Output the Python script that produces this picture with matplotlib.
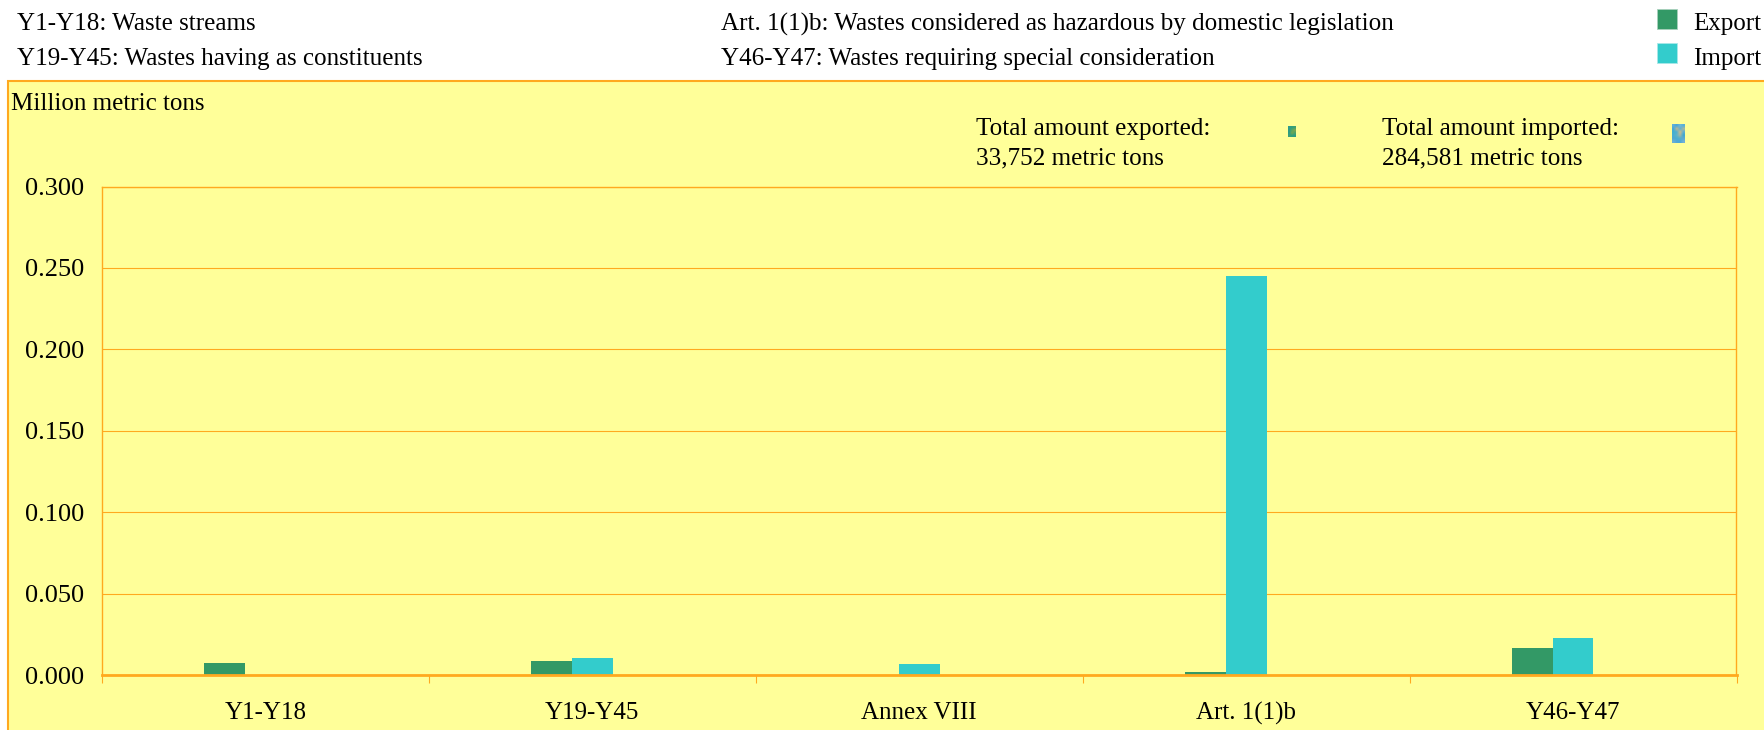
#!/usr/bin/env python3
import numpy as np
import matplotlib
matplotlib.use('Agg')
import matplotlib.pyplot as plt
from matplotlib.patches import Rectangle
from matplotlib.colors import to_rgb

categories = ['Y1-Y18', 'Y19-Y45', 'Annex VIII', 'Art. 1(1)b', 'Y46-Y47']
export_values = [0.0073, 0.0083, 0.0, 0.0016, 0.0165]
import_values = [0.0, 0.0103, 0.0070, 0.2448, 0.0225]
y_ticks = [0.0, 0.05, 0.10, 0.15, 0.20, 0.25, 0.30]

W, H = 1765, 730
ORANGE = '#FFA91F'
YELLOW = '#FFFF99'
GREEN = '#339966'
CYAN = '#33CCCC'

# colours of the two tiny pictures next to the totals
thumb_export = [['#2F9C8C', '#2FA07C', '#3FA070'],
                ['#2C9C84', '#58A860', '#80A850'],
                ['#2C9C84', '#78A850', '#4CA468'],
                ['#3CA078', '#2FA07C', '#2C9C84']]
thumb_import = [['#5FB0D8', '#4AA8D8', '#70B8D8', '#58B0D8'],
                ['#48A8D8', '#C0B890', '#60B0D0', '#A8B8A0'],
                ['#40B0D0', '#50B0D0', '#D0BC88', '#60B0D0'],
                ['#48B0D0', '#60B4C8', '#A8B8A0', '#40A8D0'],
                ['#50A8D0', '#48B0D0', '#58B0C8', '#60A8D0'],
                ['#68B0D8', '#50A8D8', '#4CA8D8', '#70B0D8']]

plt.rcParams['font.family'] = ['Liberation Serif', 'DejaVu Serif']

fig = plt.figure(figsize=(W / 100, H / 100), dpi=100, facecolor='white')


def add_px(x0, y0, x1, y1, **kw):
    # rectangle in figure pixels, y from the top
    fig.patches.append(Rectangle((x0 / W, 1 - y1 / H), (x1 - x0) / W, (y1 - y0) / H,
                                 transform=fig.transFigure, **kw))


def text_px(x, y, s, **kw):
    fig.text(x / W, 1 - y / H, s, va='center', color='black', **kw)


def thumb_px(x0, y0, x1, y1, colors):
    a = fig.add_axes([x0 / W, 1 - y1 / H, (x1 - x0) / W, (y1 - y0) / H])
    img = np.array([[to_rgb(c) for c in row] for row in colors])
    a.imshow(img, aspect='auto', interpolation='bilinear')
    a.axis('off')


# yellow panel behind the plot
add_px(7.5, 81, W + 5, H + 5, facecolor=YELLOW, edgecolor=ORANGE, linewidth=1.5, zorder=-1)

left, right, top, bottom = 102, 1736.5, 186.5, 675
ax = fig.add_axes([left / W, 1 - bottom / H, (right - left) / W, (bottom - top) / H])
ax.set_facecolor(YELLOW)

x = np.arange(len(categories))
bar_w = 0.125
ax.bar(x - bar_w, export_values, bar_w, color=GREEN, zorder=3)
ax.bar(x, import_values, bar_w, color=CYAN, zorder=3)

ax.set_xlim(-0.5, len(categories) - 0.5)
ax.set_ylim(0, 0.3)
ax.set_yticks(y_ticks)
ax.set_yticklabels(['%.3f' % t for t in y_ticks], fontsize=19)
ax.set_xticks(x)
ax.set_xticklabels(categories, fontsize=18)
ax.set_xticks(np.arange(len(categories) + 1) - 0.5, minor=True)
ax.tick_params(axis='x', which='major', length=0, pad=19.5)
ax.tick_params(axis='x', which='minor', length=6, color=ORANGE, width=0.8)
ax.tick_params(axis='y', length=0, pad=13)
ax.grid(axis='y', color=ORANGE, linewidth=0.8, zorder=1)
for name, spine in ax.spines.items():
    spine.set_color(ORANGE)
    spine.set_linewidth(1.0)
ax.spines['bottom'].set_linewidth(2.0)
ax.spines['bottom'].set_zorder(4)

# key lines on top of the panel
text_px(17, 24, 'Y1-Y18: Waste streams', fontsize=18.1)
text_px(17, 59, 'Y19-Y45: Wastes having as constituents', fontsize=18.1)
text_px(721, 24, 'Art. 1(1)b: Wastes considered as hazardous by domestic legislation', fontsize=18.1)
text_px(721, 59, 'Y46-Y47: Wastes requiring special consideration', fontsize=18.1)
text_px(1693, 24, 'Export', fontsize=18)
text_px(1693, 59, 'Import', fontsize=18)
add_px(1657.5, 9, 1677.5, 29, facecolor=GREEN, edgecolor='#A8D0BC', linewidth=0.6)
add_px(1657.5, 43, 1677.5, 63, facecolor=CYAN, edgecolor='#A8E8E8', linewidth=0.6)

text_px(11, 103.5, 'Million metric tons', fontsize=18)
text_px(976, 129, 'Total amount exported:', fontsize=18.05)
text_px(976, 158, '33,752 metric tons', fontsize=18.05)
text_px(1382, 129, 'Total amount imported:', fontsize=18.05)
text_px(1382, 158, '284,581 metric tons', fontsize=18.05)

# tiny picture marks next to the totals
thumb_px(1288, 126, 1296, 137, thumb_export)
thumb_px(1672, 124, 1685, 143, thumb_import)

fig.savefig('out.png', dpi=100)
